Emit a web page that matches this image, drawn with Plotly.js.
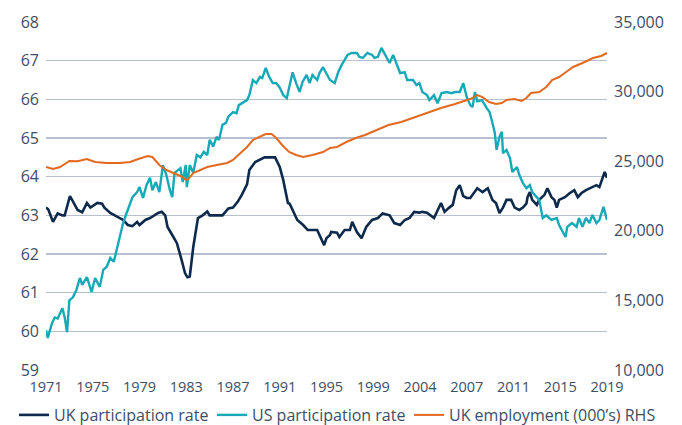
<!DOCTYPE html>
<html>
<head>
<meta charset="utf-8">
<script src="https://cdn.plot.ly/plotly-3.0.1.min.js"></script>
<style>
html,body{margin:0;padding:0;background:#fff;}
#chart{width:682px;height:425px;}
</style>
</head>
<body>
<div id="chart"></div>
<script>
// ---- Data ----
const ukYears = [1971.0,1971.2,1971.6,1972.0,1972.4,1972.6,1973.05,1973.3,1973.7,1974.1,1974.5,1974.8,1975.4,1975.8,1976.0,1976.5,1977.1,1977.6,1978.0,1978.4,1978.8,1979.0,1979.5,1979.9,1980.6,1980.9,1981.2,1981.4,1981.9,1982.2,1982.6,1982.9,1983.1,1983.3,1983.6,1984.0,1984.4,1984.8,1985.0,1986.1,1986.6,1987.0,1987.4,1987.75,1988.2,1988.4,1988.9,1989.3,1989.7,1990.6,1991.0,1991.3,1991.7,1991.85,1992.3,1992.5,1993.0,1993.4,1994.2,1994.4,1994.8,1995.0,1995.3,1995.4,1995.9,1996.1,1996.55,1997.0,1997.2,1997.6,1998.0,1998.4,1998.9,1999.4,1999.8,2000.4,2000.8,2001.3,2001.7,2002.1,2002.5,2002.95,2003.2,2003.6,2004.2,2004.8,2005.1,2005.5,2005.8,2006.1,2006.4,2006.7,2007.0,2007.3,2007.9,2008.35,2008.8,2009.2,2009.5,2009.8,2010.1,2010.4,2010.8,2011.1,2011.5,2011.8,2012.1,2012.2,2012.4,2012.6,2013.0,2013.2,2013.65,2013.9,2014.25,2014.5,2014.7,2014.9,2015.4,2015.8,2016.2,2016.5,2016.8,2017.2,2017.7,2018.1,2018.35,2018.6,2018.8,2019.0];
const ukRate = [63.2,63.15,62.83,63.05,63.0,63.0,63.5,63.35,63.14,63.08,63.32,63.2,63.32,63.3,63.2,63.06,62.96,62.88,62.75,62.72,62.83,62.75,62.88,62.93,63.06,63.09,63.0,62.7,62.44,62.28,61.85,61.5,61.4,61.42,62.18,62.93,63.0,63.1,63.0,63.0,63.18,63.2,63.35,63.53,63.8,64.17,64.38,64.45,64.5,64.5,64.25,63.91,63.32,63.3,63.0,62.88,62.75,62.62,62.62,62.49,62.23,62.41,62.49,62.57,62.55,62.44,62.62,62.62,62.83,62.57,62.41,62.7,62.88,62.93,63.05,63.0,62.8,62.75,62.88,62.93,63.09,63.07,63.09,63.07,62.93,63.32,63.09,63.2,63.27,63.65,63.78,63.5,63.45,63.45,63.7,63.6,63.7,63.4,63.32,63.06,63.2,63.4,63.4,63.2,63.14,63.2,63.3,63.47,63.6,63.4,63.27,63.4,63.53,63.7,63.47,63.4,63.2,63.4,63.47,63.57,63.65,63.47,63.57,63.65,63.73,63.78,63.73,63.92,64.12,63.97];

const usYears = [1971.0,1971.15,1971.5,1971.75,1972.0,1972.4,1972.6,1972.8,1973.0,1973.3,1973.6,1973.9,1974.1,1974.5,1974.9,1975.2,1975.6,1975.9,1976.2,1976.5,1976.8,1977.1,1977.3,1977.6,1977.9,1978.2,1978.4,1978.8,1979.0,1979.3,1979.6,1979.9,1980.1,1980.4,1980.7,1981.0,1981.3,1981.6,1981.8,1982.0,1982.5,1982.7,1982.95,1983.05,1983.3,1983.6,1983.9,1984.2,1984.5,1984.8,1985.0,1985.3,1985.6,1985.8,1986.1,1986.4,1986.6,1987.0,1987.3,1987.5,1987.8,1988.2,1988.4,1988.7,1989.0,1989.3,1989.5,1989.8,1990.1,1990.4,1990.7,1991.0,1991.3,1991.6,1991.8,1992.1,1992.4,1992.7,1992.95,1993.3,1993.55,1993.8,1994.2,1994.4,1994.7,1995.0,1995.3,1995.7,1996.0,1996.3,1996.55,1996.8,1997.15,1997.6,1997.8,1998.1,1998.5,1998.9,1999.1,1999.4,1999.7,2000.0,2000.4,2000.7,2001.0,2001.3,2001.7,2001.9,2002.4,2002.7,2002.95,2003.2,2003.6,2003.8,2004.2,2004.5,2004.85,2005.3,2005.7,2006.0,2006.4,2006.7,2007.0,2007.3,2007.5,2007.7,2007.9,2008.3,2008.7,2008.95,2009.2,2009.4,2009.55,2009.8,2010.0,2010.1,2010.4,2010.7,2010.9,2011.3,2011.5,2011.8,2012.1,2012.4,2012.6,2013.0,2013.2,2013.5,2013.8,2014.25,2014.7,2014.9,2015.2,2015.45,2015.6,2016.0,2016.4,2016.6,2016.9,2017.2,2017.5,2017.75,2018.1,2018.35,2018.7,2019.0];
const usRate = [60.03,59.83,60.2,60.36,60.33,60.6,60.36,59.98,60.8,60.88,61.07,61.38,61.2,61.4,61.02,61.38,61.15,61.59,61.67,61.9,61.8,62.16,62.41,62.8,63.06,63.32,63.47,63.6,63.73,63.45,63.78,63.97,63.65,63.86,63.6,64.3,64.04,63.65,63.47,64.1,64.22,63.86,64.3,63.73,64.3,64.1,64.56,64.5,64.64,64.56,64.95,64.78,65.03,64.95,65.34,65.39,65.55,65.67,65.64,65.85,65.9,65.98,66.11,66.5,66.42,66.58,66.55,66.81,66.58,66.42,66.42,66.3,66.11,66.03,66.3,66.7,66.42,66.19,66.45,66.63,66.42,66.63,66.5,66.68,66.83,66.68,66.5,66.42,66.7,66.89,67.02,67.15,67.2,67.2,67.1,67.07,67.2,67.15,67.07,67.1,67.33,67.15,66.94,67.15,66.89,66.68,66.7,66.5,66.5,66.37,66.42,66.19,66.11,65.98,66.11,65.9,66.16,66.19,66.16,66.19,66.19,66.42,66.06,65.85,65.8,66.19,65.95,65.98,65.78,65.67,65.39,65.13,64.69,65.03,65.16,64.61,64.69,64.48,64.12,64.25,64.04,63.84,63.7,63.78,63.6,63.47,63.4,62.93,63.0,62.88,62.93,62.75,62.57,62.44,62.7,62.8,62.7,62.93,62.7,62.93,62.8,63.01,62.8,62.88,63.22,62.88];

const empYears = [1971.0,1971.6,1972.2,1972.6,1973.0,1973.7,1974.5,1975.2,1976.2,1977.3,1978.2,1978.9,1979.7,1980.1,1980.7,1981.3,1981.9,1982.5,1982.9,1983.1,1983.6,1984.2,1984.8,1985.6,1986.5,1987.0,1987.6,1988.2,1988.7,1989.3,1989.8,1990.3,1990.7,1991.2,1991.8,1992.4,1993.0,1993.8,1994.7,1995.3,1995.9,1996.7,1997.5,1998.3,1999.3,2000.3,2001.4,2002.6,2003.7,2004.8,2006.0,2006.9,2007.4,2007.9,2008.35,2008.9,2009.5,2010.0,2010.4,2011.1,2011.7,2012.1,2012.5,2013.2,2013.8,2014.3,2014.9,2015.5,2016.1,2016.9,2017.8,2018.5,2019.0];
const empUK = [24583,24440,24583,24800,25014,25000,25158,24942,24870,24870,24942,25158,25373,25302,24727,24368,24152,23937,23721,23649,24152,24368,24583,24727,24870,25086,25589,26020,26523,26738,26954,26954,26666,26164,25661,25445,25302,25445,25661,25948,26020,26379,26666,26882,27241,27601,27816,28175,28534,28822,29109,29397,29500,29756,29600,29253,29109,29181,29397,29469,29325,29540,29900,29971,30330,30833,31049,31408,31767,32055,32414,32557,32773];

const xTickVals = [1971,1975,1979,1983,1987,1991,1995,1999,2003,2007,2011,2015,2019];
const xTickText = ["1971","1975","1979","1983","1987","1991","1995","1999","2004","2007","2011","2015","2019"];
const seriesNames = ["UK participation rate","US participation rate","UK employment (000\u2019s) RHS"];

// ---- Chart ----
const textColor = "#3d4e66";
const traces = [
  {x: ukYears, y: ukRate, name: seriesNames[0], type: "scatter", mode: "lines", legend: "legend",
   line: {color: "#0d2a4c", width: 2.6}},
  {x: usYears, y: usRate, name: seriesNames[1], type: "scatter", mode: "lines", legend: "legend2",
   line: {color: "#17a9b7", width: 2.4}},
  {x: empYears, y: empUK, name: seriesNames[2], type: "scatter", mode: "lines", yaxis: "y2", legend: "legend3",
   line: {color: "#e3691f", width: 2.0}}
];

function legendAt(px) {
  return {orientation: "h", x: px/682, xref: "container", xanchor: "left",
          y: 10/425, yref: "container", yanchor: "middle",
          font: {size: 16, color: textColor}, itemwidth: 30, bgcolor: "rgba(0,0,0,0)"};
}

const layout = {
  width: 682, height: 425,
  margin: {l: 46, r: 75, t: 22, b: 55},
  paper_bgcolor: "#ffffff", plot_bgcolor: "#ffffff",
  font: {family: "Open Sans, sans-serif", color: textColor, size: 14},
  showlegend: true,
  legend: legendAt(14),
  legend2: legendAt(212),
  legend3: legendAt(409),
  xaxis: {range: [1971, 2019], tickvals: xTickVals, ticktext: xTickText,
          showgrid: false, zeroline: false, showline: false, ticks: "",
          ticklabelstandoff: 6, tickfont: {size: 14.5, color: textColor}},
  yaxis: {range: [59, 68], dtick: 1, showgrid: true, gridcolor: "#b8c0d0", gridwidth: 1.2,
          zeroline: false, showline: false, ticks: "", ticklabelstandoff: 6,
          tickfont: {size: 16, color: textColor}},
  yaxis2: {range: [10000, 35000], overlaying: "y", side: "right",
           tickvals: [10000,15000,20000,25000,30000,35000], tickformat: ",d",
           showgrid: false, zeroline: false, showline: false, ticks: "", ticklabelstandoff: 6,
           tickfont: {size: 16, color: textColor}}
};

Plotly.newPlot("chart", traces, layout, {displayModeBar: false, staticPlot: true});
</script>
</body>
</html>
